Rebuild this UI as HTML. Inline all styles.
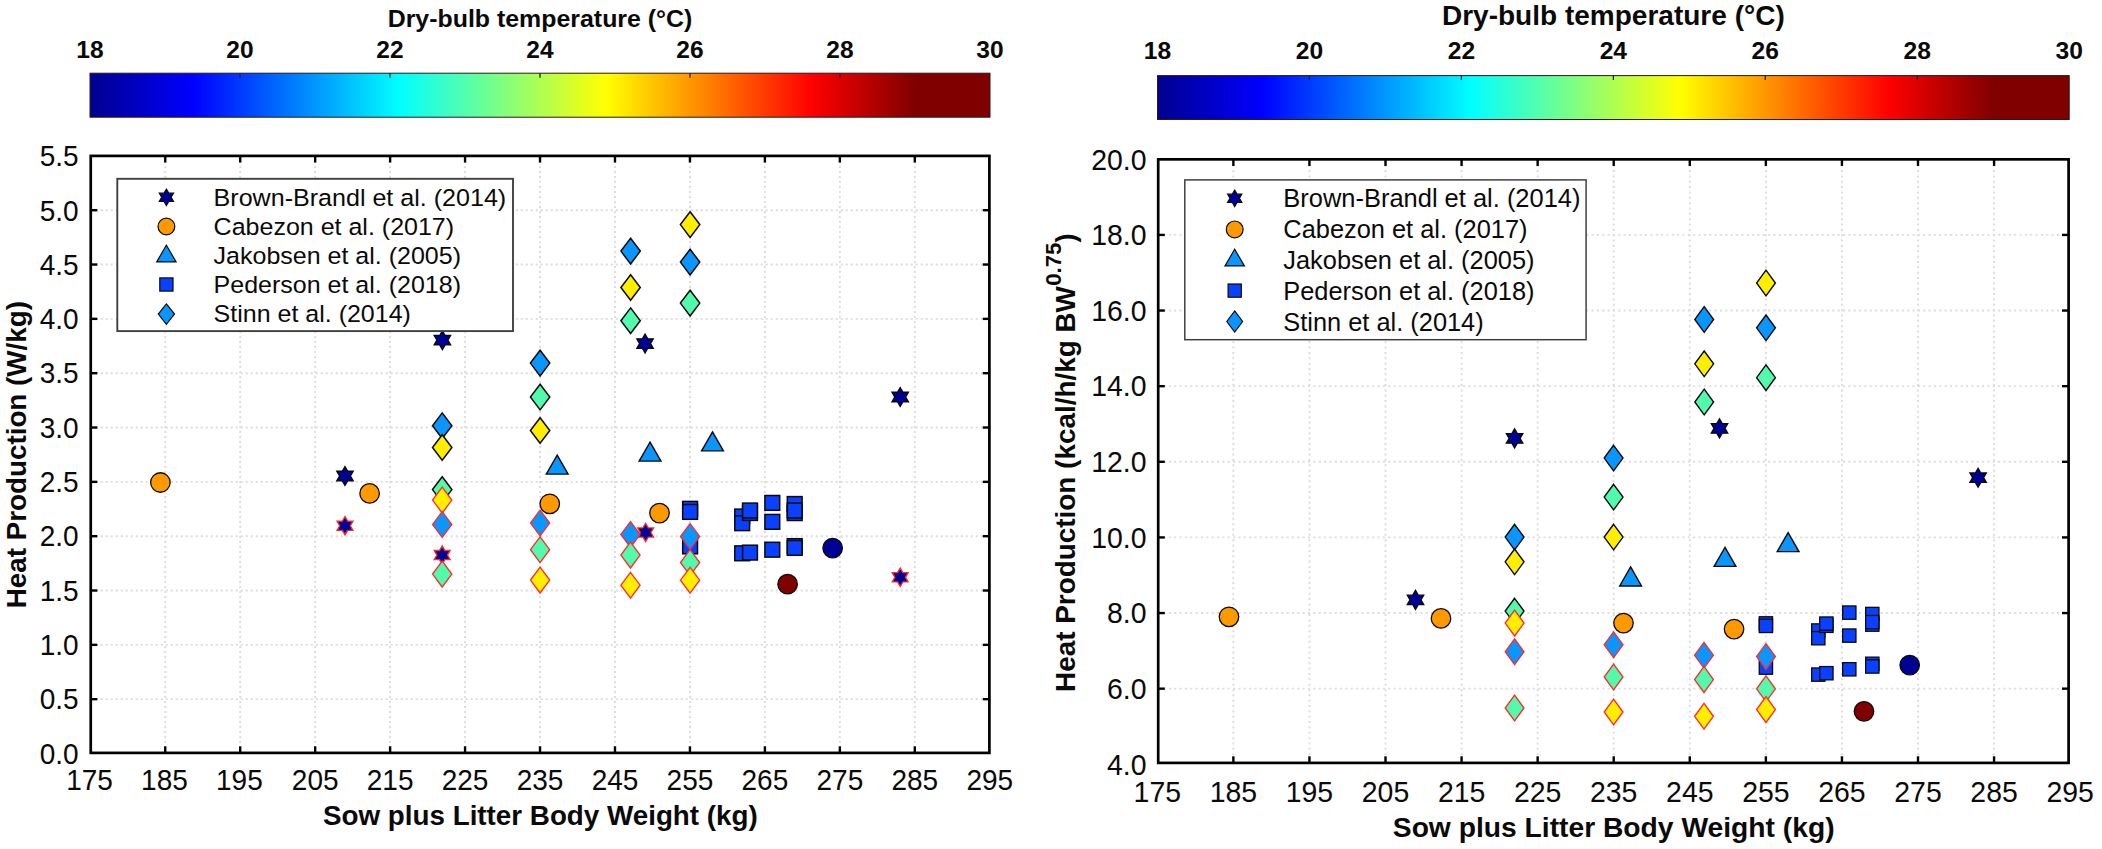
<!DOCTYPE html>
<html lang="en"><head><meta charset="utf-8"><title>Heat production vs sow plus litter body weight</title>
<style>html,body{margin:0;padding:0;background:#fff}svg{display:block}</style></head>
<body>
<svg width="2102" height="849" viewBox="0 0 2102 849" font-family="'Liberation Sans', sans-serif" fill="#0a0a0a">
<defs><linearGradient id="jet" x1="0" y1="0" x2="1" y2="0">
<stop offset="0" stop-color="#00008f"/><stop offset="0.11458" stop-color="#0000ff"/>
<stop offset="0.34375" stop-color="#00ffff"/><stop offset="0.57292" stop-color="#ffff00"/>
<stop offset="0.80208" stop-color="#ff0000"/><stop offset="0.91667" stop-color="#800000"/>
<stop offset="1" stop-color="#800000"/></linearGradient></defs>
<rect width="2102" height="849" fill="#fff"/>
<rect x="90" y="73.2" width="900" height="44.0" fill="url(#jet)" stroke="#2a1a1a" stroke-width="1"/>
<line x1="240.00" y1="73.2" x2="240.00" y2="77.7" stroke="#222" stroke-width="1.3"/>
<line x1="390.00" y1="73.2" x2="390.00" y2="77.7" stroke="#222" stroke-width="1.3"/>
<line x1="540.00" y1="73.2" x2="540.00" y2="77.7" stroke="#222" stroke-width="1.3"/>
<line x1="690.00" y1="73.2" x2="690.00" y2="77.7" stroke="#222" stroke-width="1.3"/>
<line x1="840.00" y1="73.2" x2="840.00" y2="77.7" stroke="#222" stroke-width="1.3"/>
<text x="90.00" y="57.50" font-size="24.5" text-anchor="middle" font-weight="bold" >18</text>
<text x="240.00" y="57.50" font-size="24.5" text-anchor="middle" font-weight="bold" >20</text>
<text x="390.00" y="57.50" font-size="24.5" text-anchor="middle" font-weight="bold" >22</text>
<text x="540.00" y="57.50" font-size="24.5" text-anchor="middle" font-weight="bold" >24</text>
<text x="690.00" y="57.50" font-size="24.5" text-anchor="middle" font-weight="bold" >26</text>
<text x="840.00" y="57.50" font-size="24.5" text-anchor="middle" font-weight="bold" >28</text>
<text x="990.00" y="57.50" font-size="24.5" text-anchor="middle" font-weight="bold" >30</text>
<text x="540.00" y="26.90" font-size="24.5" text-anchor="middle" font-weight="bold" textLength="304.7" lengthAdjust="spacingAndGlyphs" >Dry-bulb temperature (°C)</text>
<line x1="165.25" y1="155.9" x2="165.25" y2="752.9" stroke="#dcdcdc" stroke-width="1.9" stroke-dasharray="2 3"/>
<line x1="240.21" y1="155.9" x2="240.21" y2="752.9" stroke="#dcdcdc" stroke-width="1.9" stroke-dasharray="2 3"/>
<line x1="315.17" y1="155.9" x2="315.17" y2="752.9" stroke="#dcdcdc" stroke-width="1.9" stroke-dasharray="2 3"/>
<line x1="390.12" y1="155.9" x2="390.12" y2="752.9" stroke="#dcdcdc" stroke-width="1.9" stroke-dasharray="2 3"/>
<line x1="465.07" y1="155.9" x2="465.07" y2="752.9" stroke="#dcdcdc" stroke-width="1.9" stroke-dasharray="2 3"/>
<line x1="540.03" y1="155.9" x2="540.03" y2="752.9" stroke="#dcdcdc" stroke-width="1.9" stroke-dasharray="2 3"/>
<line x1="614.98" y1="155.9" x2="614.98" y2="752.9" stroke="#dcdcdc" stroke-width="1.9" stroke-dasharray="2 3"/>
<line x1="689.94" y1="155.9" x2="689.94" y2="752.9" stroke="#dcdcdc" stroke-width="1.9" stroke-dasharray="2 3"/>
<line x1="764.89" y1="155.9" x2="764.89" y2="752.9" stroke="#dcdcdc" stroke-width="1.9" stroke-dasharray="2 3"/>
<line x1="839.85" y1="155.9" x2="839.85" y2="752.9" stroke="#dcdcdc" stroke-width="1.9" stroke-dasharray="2 3"/>
<line x1="914.80" y1="155.9" x2="914.80" y2="752.9" stroke="#dcdcdc" stroke-width="1.9" stroke-dasharray="2 3"/>
<line x1="90.75" y1="699.17" x2="989.4" y2="699.17" stroke="#dcdcdc" stroke-width="1.9" stroke-dasharray="2 3"/>
<line x1="90.75" y1="644.84" x2="989.4" y2="644.84" stroke="#dcdcdc" stroke-width="1.9" stroke-dasharray="2 3"/>
<line x1="90.75" y1="590.51" x2="989.4" y2="590.51" stroke="#dcdcdc" stroke-width="1.9" stroke-dasharray="2 3"/>
<line x1="90.75" y1="536.18" x2="989.4" y2="536.18" stroke="#dcdcdc" stroke-width="1.9" stroke-dasharray="2 3"/>
<line x1="90.75" y1="481.85" x2="989.4" y2="481.85" stroke="#dcdcdc" stroke-width="1.9" stroke-dasharray="2 3"/>
<line x1="90.75" y1="427.52" x2="989.4" y2="427.52" stroke="#dcdcdc" stroke-width="1.9" stroke-dasharray="2 3"/>
<line x1="90.75" y1="373.19" x2="989.4" y2="373.19" stroke="#dcdcdc" stroke-width="1.9" stroke-dasharray="2 3"/>
<line x1="90.75" y1="318.86" x2="989.4" y2="318.86" stroke="#dcdcdc" stroke-width="1.9" stroke-dasharray="2 3"/>
<line x1="90.75" y1="264.53" x2="989.4" y2="264.53" stroke="#dcdcdc" stroke-width="1.9" stroke-dasharray="2 3"/>
<line x1="90.75" y1="210.20" x2="989.4" y2="210.20" stroke="#dcdcdc" stroke-width="1.9" stroke-dasharray="2 3"/>
<polygon points="345.00,466.50 347.74,471.25 353.23,471.25 350.48,476.00 353.23,480.75 347.74,480.75 345.00,485.50 342.26,480.75 336.77,480.75 339.52,476.00 336.77,471.25 342.26,471.25" fill="#000094" stroke="#0a0a0a" stroke-width="1.3"/>
<polygon points="442.40,330.70 445.14,335.45 450.63,335.45 447.88,340.20 450.63,344.95 445.14,344.95 442.40,349.70 439.66,344.95 434.17,344.95 436.92,340.20 434.17,335.45 439.66,335.45" fill="#000094" stroke="#0a0a0a" stroke-width="1.3"/>
<polygon points="645.05,334.05 647.79,338.80 653.28,338.80 650.53,343.55 653.28,348.30 647.79,348.30 645.05,353.05 642.31,348.30 636.82,348.30 639.57,343.55 636.82,338.80 642.31,338.80" fill="#000094" stroke="#0a0a0a" stroke-width="1.3"/>
<polygon points="900.20,387.50 902.94,392.25 908.43,392.25 905.68,397.00 908.43,401.75 902.94,401.75 900.20,406.50 897.46,401.75 891.97,401.75 894.72,397.00 891.97,392.25 897.46,392.25" fill="#000094" stroke="#0a0a0a" stroke-width="1.3"/>
<rect x="682.70" y="501.40" width="14.8" height="14.8" fill="#0a40ff" stroke="#0a0a0a" stroke-width="1.5"/>
<rect x="682.70" y="504.50" width="14.8" height="14.8" fill="#0a40ff" stroke="#0a0a0a" stroke-width="1.5"/>
<rect x="682.70" y="539.00" width="14.8" height="14.8" fill="#0a40ff" stroke="#0a0a0a" stroke-width="1.5"/>
<rect x="734.80" y="509.10" width="14.8" height="14.8" fill="#0a40ff" stroke="#0a0a0a" stroke-width="1.5"/>
<rect x="734.80" y="515.80" width="14.8" height="14.8" fill="#0a40ff" stroke="#0a0a0a" stroke-width="1.5"/>
<rect x="742.60" y="505.60" width="14.8" height="14.8" fill="#0a40ff" stroke="#0a0a0a" stroke-width="1.5"/>
<rect x="742.60" y="503.10" width="14.8" height="14.8" fill="#0a40ff" stroke="#0a0a0a" stroke-width="1.5"/>
<rect x="764.90" y="495.50" width="14.8" height="14.8" fill="#0a40ff" stroke="#0a0a0a" stroke-width="1.5"/>
<rect x="764.90" y="514.45" width="14.8" height="14.8" fill="#0a40ff" stroke="#0a0a0a" stroke-width="1.5"/>
<rect x="787.30" y="496.60" width="14.8" height="14.8" fill="#0a40ff" stroke="#0a0a0a" stroke-width="1.5"/>
<rect x="787.30" y="505.70" width="14.8" height="14.8" fill="#0a40ff" stroke="#0a0a0a" stroke-width="1.5"/>
<rect x="787.30" y="503.10" width="14.8" height="14.8" fill="#0a40ff" stroke="#0a0a0a" stroke-width="1.5"/>
<rect x="734.80" y="545.90" width="14.8" height="14.8" fill="#0a40ff" stroke="#0a0a0a" stroke-width="1.5"/>
<rect x="742.60" y="545.20" width="14.8" height="14.8" fill="#0a40ff" stroke="#0a0a0a" stroke-width="1.5"/>
<rect x="764.90" y="542.30" width="14.8" height="14.8" fill="#0a40ff" stroke="#0a0a0a" stroke-width="1.5"/>
<rect x="787.30" y="538.70" width="14.8" height="14.8" fill="#0a40ff" stroke="#0a0a0a" stroke-width="1.5"/>
<rect x="787.30" y="540.50" width="14.8" height="14.8" fill="#0a40ff" stroke="#0a0a0a" stroke-width="1.5"/>
<polygon points="557.20,455.06 568.10,474.10 546.30,474.10" fill="#0a96ff" stroke="#0a0a0a" stroke-width="1.4"/>
<polygon points="650.05,442.06 660.95,461.10 639.15,461.10" fill="#0a96ff" stroke="#0a0a0a" stroke-width="1.4"/>
<polygon points="712.50,431.81 723.40,450.85 701.60,450.85" fill="#0a96ff" stroke="#0a0a0a" stroke-width="1.4"/>
<polygon points="442.20,412.90 451.90,425.70 442.20,438.50 432.50,425.70" fill="#0a96ff" stroke="#0a0a0a" stroke-width="1.5"/>
<polygon points="442.20,434.70 451.90,447.50 442.20,460.30 432.50,447.50" fill="#ffee00" stroke="#0a0a0a" stroke-width="1.5"/>
<polygon points="442.20,476.80 451.90,489.60 442.20,502.40 432.50,489.60" fill="#52fbab" stroke="#0a0a0a" stroke-width="1.5"/>
<polygon points="540.10,350.30 549.80,363.10 540.10,375.90 530.40,363.10" fill="#0a96ff" stroke="#0a0a0a" stroke-width="1.5"/>
<polygon points="540.10,384.26 549.80,397.06 540.10,409.86 530.40,397.06" fill="#52fbab" stroke="#0a0a0a" stroke-width="1.5"/>
<polygon points="540.10,417.70 549.80,430.50 540.10,443.30 530.40,430.50" fill="#ffee00" stroke="#0a0a0a" stroke-width="1.5"/>
<polygon points="630.60,238.30 640.30,251.10 630.60,263.90 620.90,251.10" fill="#0a96ff" stroke="#0a0a0a" stroke-width="1.5"/>
<polygon points="630.60,274.70 640.30,287.50 630.60,300.30 620.90,287.50" fill="#ffee00" stroke="#0a0a0a" stroke-width="1.5"/>
<polygon points="630.60,307.90 640.30,320.70 630.60,333.50 620.90,320.70" fill="#52fbab" stroke="#0a0a0a" stroke-width="1.5"/>
<polygon points="690.10,211.80 699.80,224.60 690.10,237.40 680.40,224.60" fill="#ffee00" stroke="#0a0a0a" stroke-width="1.5"/>
<polygon points="690.10,249.30 699.80,262.10 690.10,274.90 680.40,262.10" fill="#0a96ff" stroke="#0a0a0a" stroke-width="1.5"/>
<polygon points="690.10,290.30 699.80,303.10 690.10,315.90 680.40,303.10" fill="#52fbab" stroke="#0a0a0a" stroke-width="1.5"/>
<polygon points="345.00,516.55 347.66,521.15 352.97,521.15 350.31,525.75 352.97,530.35 347.66,530.35 345.00,534.95 342.34,530.35 337.03,530.35 339.69,525.75 337.03,521.15 342.34,521.15" fill="#000094" stroke="#ff2a2a" stroke-width="1.3"/>
<polygon points="442.20,545.90 444.86,550.50 450.17,550.50 447.51,555.10 450.17,559.70 444.86,559.70 442.20,564.30 439.54,559.70 434.23,559.70 436.89,555.10 434.23,550.50 439.54,550.50" fill="#000094" stroke="#ff2a2a" stroke-width="1.3"/>
<polygon points="645.60,523.30 648.26,527.90 653.57,527.90 650.91,532.50 653.57,537.10 648.26,537.10 645.60,541.70 642.94,537.10 637.63,537.10 640.29,532.50 637.63,527.90 642.94,527.90" fill="#000094" stroke="#ff2a2a" stroke-width="1.3"/>
<polygon points="900.20,568.10 902.86,572.70 908.17,572.70 905.51,577.30 908.17,581.90 902.86,581.90 900.20,586.50 897.54,581.90 892.23,581.90 894.89,577.30 892.23,572.70 897.54,572.70" fill="#000094" stroke="#ff2a2a" stroke-width="1.3"/>
<polygon points="442.20,487.20 451.80,500.10 442.20,513.00 432.60,500.10" fill="#ffee00" stroke="#ff2a2a" stroke-width="1.35"/>
<polygon points="442.20,511.55 451.80,524.45 442.20,537.35 432.60,524.45" fill="#0a96ff" stroke="#ff2a2a" stroke-width="1.35"/>
<polygon points="442.20,561.20 451.80,574.10 442.20,587.00 432.60,574.10" fill="#52fbab" stroke="#ff2a2a" stroke-width="1.35"/>
<polygon points="540.10,510.15 549.70,523.05 540.10,535.95 530.50,523.05" fill="#0a96ff" stroke="#ff2a2a" stroke-width="1.35"/>
<polygon points="540.10,536.80 549.70,549.70 540.10,562.60 530.50,549.70" fill="#52fbab" stroke="#ff2a2a" stroke-width="1.35"/>
<polygon points="540.10,567.20 549.70,580.10 540.10,593.00 530.50,580.10" fill="#ffee00" stroke="#ff2a2a" stroke-width="1.35"/>
<polygon points="630.50,521.60 640.10,534.50 630.50,547.40 620.90,534.50" fill="#0a96ff" stroke="#ff2a2a" stroke-width="1.35"/>
<polygon points="630.50,542.20 640.10,555.10 630.50,568.00 620.90,555.10" fill="#52fbab" stroke="#ff2a2a" stroke-width="1.35"/>
<polygon points="630.50,572.30 640.10,585.20 630.50,598.10 620.90,585.20" fill="#ffee00" stroke="#ff2a2a" stroke-width="1.35"/>
<polygon points="690.10,523.60 699.70,536.50 690.10,549.40 680.50,536.50" fill="#0a96ff" stroke="#ff2a2a" stroke-width="1.35"/>
<polygon points="690.10,549.60 699.70,562.50 690.10,575.40 680.50,562.50" fill="#52fbab" stroke="#ff2a2a" stroke-width="1.35"/>
<polygon points="690.10,567.30 699.70,580.20 690.10,593.10 680.50,580.20" fill="#ffee00" stroke="#ff2a2a" stroke-width="1.35"/>
<circle cx="160.40" cy="482.50" r="9.75" fill="#ff9900" stroke="#0a0a0a" stroke-width="1.3"/>
<circle cx="369.60" cy="493.40" r="9.75" fill="#ff9900" stroke="#0a0a0a" stroke-width="1.3"/>
<circle cx="549.75" cy="503.80" r="9.75" fill="#ff9900" stroke="#0a0a0a" stroke-width="1.3"/>
<circle cx="659.50" cy="513.10" r="9.75" fill="#ff9900" stroke="#0a0a0a" stroke-width="1.3"/>
<circle cx="832.65" cy="548.10" r="9.75" fill="#000094" stroke="#0a0a0a" stroke-width="1.3"/>
<circle cx="787.60" cy="584.20" r="9.75" fill="#800000" stroke="#0a0a0a" stroke-width="1.3"/>
<line x1="165.25" y1="752.9" x2="165.25" y2="746.3" stroke="#000" stroke-width="2.4"/>
<line x1="165.25" y1="155.9" x2="165.25" y2="162.5" stroke="#000" stroke-width="2.4"/>
<line x1="240.21" y1="752.9" x2="240.21" y2="746.3" stroke="#000" stroke-width="2.4"/>
<line x1="240.21" y1="155.9" x2="240.21" y2="162.5" stroke="#000" stroke-width="2.4"/>
<line x1="315.17" y1="752.9" x2="315.17" y2="746.3" stroke="#000" stroke-width="2.4"/>
<line x1="315.17" y1="155.9" x2="315.17" y2="162.5" stroke="#000" stroke-width="2.4"/>
<line x1="390.12" y1="752.9" x2="390.12" y2="746.3" stroke="#000" stroke-width="2.4"/>
<line x1="390.12" y1="155.9" x2="390.12" y2="162.5" stroke="#000" stroke-width="2.4"/>
<line x1="465.07" y1="752.9" x2="465.07" y2="746.3" stroke="#000" stroke-width="2.4"/>
<line x1="465.07" y1="155.9" x2="465.07" y2="162.5" stroke="#000" stroke-width="2.4"/>
<line x1="540.03" y1="752.9" x2="540.03" y2="746.3" stroke="#000" stroke-width="2.4"/>
<line x1="540.03" y1="155.9" x2="540.03" y2="162.5" stroke="#000" stroke-width="2.4"/>
<line x1="614.98" y1="752.9" x2="614.98" y2="746.3" stroke="#000" stroke-width="2.4"/>
<line x1="614.98" y1="155.9" x2="614.98" y2="162.5" stroke="#000" stroke-width="2.4"/>
<line x1="689.94" y1="752.9" x2="689.94" y2="746.3" stroke="#000" stroke-width="2.4"/>
<line x1="689.94" y1="155.9" x2="689.94" y2="162.5" stroke="#000" stroke-width="2.4"/>
<line x1="764.89" y1="752.9" x2="764.89" y2="746.3" stroke="#000" stroke-width="2.4"/>
<line x1="764.89" y1="155.9" x2="764.89" y2="162.5" stroke="#000" stroke-width="2.4"/>
<line x1="839.85" y1="752.9" x2="839.85" y2="746.3" stroke="#000" stroke-width="2.4"/>
<line x1="839.85" y1="155.9" x2="839.85" y2="162.5" stroke="#000" stroke-width="2.4"/>
<line x1="914.80" y1="752.9" x2="914.80" y2="746.3" stroke="#000" stroke-width="2.4"/>
<line x1="914.80" y1="155.9" x2="914.80" y2="162.5" stroke="#000" stroke-width="2.4"/>
<line x1="90.75" y1="699.17" x2="97.35" y2="699.17" stroke="#000" stroke-width="2.4"/>
<line x1="989.4" y1="699.17" x2="982.8" y2="699.17" stroke="#000" stroke-width="2.4"/>
<line x1="90.75" y1="644.84" x2="97.35" y2="644.84" stroke="#000" stroke-width="2.4"/>
<line x1="989.4" y1="644.84" x2="982.8" y2="644.84" stroke="#000" stroke-width="2.4"/>
<line x1="90.75" y1="590.51" x2="97.35" y2="590.51" stroke="#000" stroke-width="2.4"/>
<line x1="989.4" y1="590.51" x2="982.8" y2="590.51" stroke="#000" stroke-width="2.4"/>
<line x1="90.75" y1="536.18" x2="97.35" y2="536.18" stroke="#000" stroke-width="2.4"/>
<line x1="989.4" y1="536.18" x2="982.8" y2="536.18" stroke="#000" stroke-width="2.4"/>
<line x1="90.75" y1="481.85" x2="97.35" y2="481.85" stroke="#000" stroke-width="2.4"/>
<line x1="989.4" y1="481.85" x2="982.8" y2="481.85" stroke="#000" stroke-width="2.4"/>
<line x1="90.75" y1="427.52" x2="97.35" y2="427.52" stroke="#000" stroke-width="2.4"/>
<line x1="989.4" y1="427.52" x2="982.8" y2="427.52" stroke="#000" stroke-width="2.4"/>
<line x1="90.75" y1="373.19" x2="97.35" y2="373.19" stroke="#000" stroke-width="2.4"/>
<line x1="989.4" y1="373.19" x2="982.8" y2="373.19" stroke="#000" stroke-width="2.4"/>
<line x1="90.75" y1="318.86" x2="97.35" y2="318.86" stroke="#000" stroke-width="2.4"/>
<line x1="989.4" y1="318.86" x2="982.8" y2="318.86" stroke="#000" stroke-width="2.4"/>
<line x1="90.75" y1="264.53" x2="97.35" y2="264.53" stroke="#000" stroke-width="2.4"/>
<line x1="989.4" y1="264.53" x2="982.8" y2="264.53" stroke="#000" stroke-width="2.4"/>
<line x1="90.75" y1="210.20" x2="97.35" y2="210.20" stroke="#000" stroke-width="2.4"/>
<line x1="989.4" y1="210.20" x2="982.8" y2="210.20" stroke="#000" stroke-width="2.4"/>
<rect x="90.75" y="155.9" width="898.65" height="597.0" fill="none" stroke="#000" stroke-width="2.7"/>
<text x="89.50" y="790.20" font-size="28.9" text-anchor="middle" textLength="46.7" lengthAdjust="spacingAndGlyphs" >175</text>
<text x="164.45" y="790.20" font-size="28.9" text-anchor="middle" textLength="46.7" lengthAdjust="spacingAndGlyphs" >185</text>
<text x="239.41" y="790.20" font-size="28.9" text-anchor="middle" textLength="46.7" lengthAdjust="spacingAndGlyphs" >195</text>
<text x="315.17" y="790.20" font-size="28.9" text-anchor="middle" textLength="46.7" lengthAdjust="spacingAndGlyphs" >205</text>
<text x="390.12" y="790.20" font-size="28.9" text-anchor="middle" textLength="46.7" lengthAdjust="spacingAndGlyphs" >215</text>
<text x="465.07" y="790.20" font-size="28.9" text-anchor="middle" textLength="46.7" lengthAdjust="spacingAndGlyphs" >225</text>
<text x="540.03" y="790.20" font-size="28.9" text-anchor="middle" textLength="46.7" lengthAdjust="spacingAndGlyphs" >235</text>
<text x="614.98" y="790.20" font-size="28.9" text-anchor="middle" textLength="46.7" lengthAdjust="spacingAndGlyphs" >245</text>
<text x="689.94" y="790.20" font-size="28.9" text-anchor="middle" textLength="46.7" lengthAdjust="spacingAndGlyphs" >255</text>
<text x="764.89" y="790.20" font-size="28.9" text-anchor="middle" textLength="46.7" lengthAdjust="spacingAndGlyphs" >265</text>
<text x="839.85" y="790.20" font-size="28.9" text-anchor="middle" textLength="46.7" lengthAdjust="spacingAndGlyphs" >275</text>
<text x="914.80" y="790.20" font-size="28.9" text-anchor="middle" textLength="46.7" lengthAdjust="spacingAndGlyphs" >285</text>
<text x="989.76" y="790.20" font-size="28.9" text-anchor="middle" textLength="46.7" lengthAdjust="spacingAndGlyphs" >295</text>
<text x="78.60" y="763.80" font-size="28.9" text-anchor="end" textLength="38.9" lengthAdjust="spacingAndGlyphs" >0.0</text>
<text x="78.60" y="709.47" font-size="28.9" text-anchor="end" textLength="38.9" lengthAdjust="spacingAndGlyphs" >0.5</text>
<text x="78.60" y="655.14" font-size="28.9" text-anchor="end" textLength="38.9" lengthAdjust="spacingAndGlyphs" >1.0</text>
<text x="78.60" y="600.81" font-size="28.9" text-anchor="end" textLength="38.9" lengthAdjust="spacingAndGlyphs" >1.5</text>
<text x="78.60" y="546.48" font-size="28.9" text-anchor="end" textLength="38.9" lengthAdjust="spacingAndGlyphs" >2.0</text>
<text x="78.60" y="492.15" font-size="28.9" text-anchor="end" textLength="38.9" lengthAdjust="spacingAndGlyphs" >2.5</text>
<text x="78.60" y="437.82" font-size="28.9" text-anchor="end" textLength="38.9" lengthAdjust="spacingAndGlyphs" >3.0</text>
<text x="78.60" y="383.49" font-size="28.9" text-anchor="end" textLength="38.9" lengthAdjust="spacingAndGlyphs" >3.5</text>
<text x="78.60" y="329.16" font-size="28.9" text-anchor="end" textLength="38.9" lengthAdjust="spacingAndGlyphs" >4.0</text>
<text x="78.60" y="274.83" font-size="28.9" text-anchor="end" textLength="38.9" lengthAdjust="spacingAndGlyphs" >4.5</text>
<text x="78.60" y="220.50" font-size="28.9" text-anchor="end" textLength="38.9" lengthAdjust="spacingAndGlyphs" >5.0</text>
<text x="78.60" y="166.17" font-size="28.9" text-anchor="end" textLength="38.9" lengthAdjust="spacingAndGlyphs" >5.5</text>
<text x="540.38" y="825.00" font-size="27.2" text-anchor="middle" font-weight="bold" textLength="434.7" lengthAdjust="spacingAndGlyphs" >Sow plus Litter Body Weight (kg)</text>
<rect x="117.3" y="178.8" width="395.7" height="152.3" fill="#fff" stroke="#404040" stroke-width="1.9"/>
<text x="213.60" y="205.60" font-size="24.5" text-anchor="start" textLength="292.6" lengthAdjust="spacingAndGlyphs" >Brown-Brandl et al. (2014)</text>
<text x="213.60" y="234.70" font-size="24.5" text-anchor="start" textLength="240.5" lengthAdjust="spacingAndGlyphs" >Cabezon et al. (2017)</text>
<text x="213.60" y="263.70" font-size="24.5" text-anchor="start" textLength="247.4" lengthAdjust="spacingAndGlyphs" >Jakobsen et al. (2005)</text>
<text x="213.60" y="292.60" font-size="24.5" text-anchor="start" textLength="247.4" lengthAdjust="spacingAndGlyphs" >Pederson et al. (2018)</text>
<text x="213.60" y="321.80" font-size="24.5" text-anchor="start" textLength="197.3" lengthAdjust="spacingAndGlyphs" >Stinn et al. (2014)</text>
<polygon points="166.40,189.00 168.80,193.15 173.59,193.15 171.19,197.30 173.59,201.45 168.80,201.45 166.40,205.60 164.00,201.45 159.21,201.45 161.61,197.30 159.21,193.15 164.00,193.15" fill="#000094" stroke="#0a0a0a" stroke-width="1.1"/>
<circle cx="166.40" cy="226.50" r="8.4" fill="#ff9900" stroke="#0a0a0a" stroke-width="1.2"/>
<polygon points="166.40,245.18 176.10,261.90 156.70,261.90" fill="#0a96ff" stroke="#0a0a0a" stroke-width="1.2"/>
<rect x="159.80" y="277.90" width="13.2" height="13.2" fill="#0a40ff" stroke="#0a0a0a" stroke-width="1.2"/>
<polygon points="166.40,303.90 174.50,314.10 166.40,324.30 158.30,314.10" fill="#0a96ff" stroke="#0a0a0a" stroke-width="1.2"/>
<rect x="1157.5" y="75.6" width="911.6999999999998" height="43.900000000000006" fill="url(#jet)" stroke="#2a1a1a" stroke-width="1"/>
<line x1="1309.45" y1="75.6" x2="1309.45" y2="80.1" stroke="#222" stroke-width="1.3"/>
<line x1="1461.40" y1="75.6" x2="1461.40" y2="80.1" stroke="#222" stroke-width="1.3"/>
<line x1="1613.35" y1="75.6" x2="1613.35" y2="80.1" stroke="#222" stroke-width="1.3"/>
<line x1="1765.30" y1="75.6" x2="1765.30" y2="80.1" stroke="#222" stroke-width="1.3"/>
<line x1="1917.25" y1="75.6" x2="1917.25" y2="80.1" stroke="#222" stroke-width="1.3"/>
<text x="1157.50" y="59.20" font-size="24.6" text-anchor="middle" font-weight="bold" >18</text>
<text x="1309.45" y="59.20" font-size="24.6" text-anchor="middle" font-weight="bold" >20</text>
<text x="1461.40" y="59.20" font-size="24.6" text-anchor="middle" font-weight="bold" >22</text>
<text x="1613.35" y="59.20" font-size="24.6" text-anchor="middle" font-weight="bold" >24</text>
<text x="1765.30" y="59.20" font-size="24.6" text-anchor="middle" font-weight="bold" >26</text>
<text x="1917.25" y="59.20" font-size="24.6" text-anchor="middle" font-weight="bold" >28</text>
<text x="2069.20" y="59.20" font-size="24.6" text-anchor="middle" font-weight="bold" >30</text>
<text x="1613.35" y="25.10" font-size="27.5" text-anchor="middle" font-weight="bold" textLength="342.8" lengthAdjust="spacingAndGlyphs" >Dry-bulb temperature (°C)</text>
<line x1="1233.37" y1="159.35" x2="1233.37" y2="762.9" stroke="#dcdcdc" stroke-width="1.9" stroke-dasharray="2 3.35"/>
<line x1="1309.44" y1="159.35" x2="1309.44" y2="762.9" stroke="#dcdcdc" stroke-width="1.9" stroke-dasharray="2 3.35"/>
<line x1="1385.51" y1="159.35" x2="1385.51" y2="762.9" stroke="#dcdcdc" stroke-width="1.9" stroke-dasharray="2 3.35"/>
<line x1="1461.58" y1="159.35" x2="1461.58" y2="762.9" stroke="#dcdcdc" stroke-width="1.9" stroke-dasharray="2 3.35"/>
<line x1="1537.65" y1="159.35" x2="1537.65" y2="762.9" stroke="#dcdcdc" stroke-width="1.9" stroke-dasharray="2 3.35"/>
<line x1="1613.72" y1="159.35" x2="1613.72" y2="762.9" stroke="#dcdcdc" stroke-width="1.9" stroke-dasharray="2 3.35"/>
<line x1="1689.79" y1="159.35" x2="1689.79" y2="762.9" stroke="#dcdcdc" stroke-width="1.9" stroke-dasharray="2 3.35"/>
<line x1="1765.86" y1="159.35" x2="1765.86" y2="762.9" stroke="#dcdcdc" stroke-width="1.9" stroke-dasharray="2 3.35"/>
<line x1="1841.93" y1="159.35" x2="1841.93" y2="762.9" stroke="#dcdcdc" stroke-width="1.9" stroke-dasharray="2 3.35"/>
<line x1="1918.00" y1="159.35" x2="1918.00" y2="762.9" stroke="#dcdcdc" stroke-width="1.9" stroke-dasharray="2 3.35"/>
<line x1="1994.07" y1="159.35" x2="1994.07" y2="762.9" stroke="#dcdcdc" stroke-width="1.9" stroke-dasharray="2 3.35"/>
<line x1="1158.2" y1="688.67" x2="2068.6" y2="688.67" stroke="#dcdcdc" stroke-width="1.9" stroke-dasharray="2 3.35"/>
<line x1="1158.2" y1="613.05" x2="2068.6" y2="613.05" stroke="#dcdcdc" stroke-width="1.9" stroke-dasharray="2 3.35"/>
<line x1="1158.2" y1="537.42" x2="2068.6" y2="537.42" stroke="#dcdcdc" stroke-width="1.9" stroke-dasharray="2 3.35"/>
<line x1="1158.2" y1="461.80" x2="2068.6" y2="461.80" stroke="#dcdcdc" stroke-width="1.9" stroke-dasharray="2 3.35"/>
<line x1="1158.2" y1="386.17" x2="2068.6" y2="386.17" stroke="#dcdcdc" stroke-width="1.9" stroke-dasharray="2 3.35"/>
<line x1="1158.2" y1="310.55" x2="2068.6" y2="310.55" stroke="#dcdcdc" stroke-width="1.9" stroke-dasharray="2 3.35"/>
<line x1="1158.2" y1="234.92" x2="2068.6" y2="234.92" stroke="#dcdcdc" stroke-width="1.9" stroke-dasharray="2 3.35"/>
<polygon points="1415.50,590.40 1418.24,595.15 1423.73,595.15 1420.98,599.90 1423.73,604.65 1418.24,604.65 1415.50,609.40 1412.76,604.65 1407.27,604.65 1410.02,599.90 1407.27,595.15 1412.76,595.15" fill="#000094" stroke="#0a0a0a" stroke-width="1.3"/>
<polygon points="1514.60,428.90 1517.34,433.65 1522.83,433.65 1520.08,438.40 1522.83,443.15 1517.34,443.15 1514.60,447.90 1511.86,443.15 1506.37,443.15 1509.12,438.40 1506.37,433.65 1511.86,433.65" fill="#000094" stroke="#0a0a0a" stroke-width="1.3"/>
<polygon points="1719.50,418.90 1722.24,423.65 1727.73,423.65 1724.98,428.40 1727.73,433.15 1722.24,433.15 1719.50,437.90 1716.76,433.15 1711.27,433.15 1714.02,428.40 1711.27,423.65 1716.76,423.65" fill="#000094" stroke="#0a0a0a" stroke-width="1.3"/>
<polygon points="1978.10,468.20 1980.84,472.95 1986.33,472.95 1983.58,477.70 1986.33,482.45 1980.84,482.45 1978.10,487.20 1975.36,482.45 1969.87,482.45 1972.62,477.70 1969.87,472.95 1975.36,472.95" fill="#000094" stroke="#0a0a0a" stroke-width="1.3"/>
<rect x="1759.25" y="616.75" width="13.3" height="13.3" fill="#0a40ff" stroke="#0a0a0a" stroke-width="1.3"/>
<rect x="1759.25" y="619.25" width="13.3" height="13.3" fill="#0a40ff" stroke="#0a0a0a" stroke-width="1.3"/>
<rect x="1759.25" y="660.95" width="13.3" height="13.3" fill="#0a40ff" stroke="#0a0a0a" stroke-width="1.3"/>
<rect x="1811.65" y="623.85" width="13.3" height="13.3" fill="#0a40ff" stroke="#0a0a0a" stroke-width="1.3"/>
<rect x="1811.65" y="631.55" width="13.3" height="13.3" fill="#0a40ff" stroke="#0a0a0a" stroke-width="1.3"/>
<rect x="1819.75" y="619.15" width="13.3" height="13.3" fill="#0a40ff" stroke="#0a0a0a" stroke-width="1.3"/>
<rect x="1819.75" y="616.95" width="13.3" height="13.3" fill="#0a40ff" stroke="#0a0a0a" stroke-width="1.3"/>
<rect x="1842.65" y="605.95" width="13.3" height="13.3" fill="#0a40ff" stroke="#0a0a0a" stroke-width="1.3"/>
<rect x="1842.65" y="628.95" width="13.3" height="13.3" fill="#0a40ff" stroke="#0a0a0a" stroke-width="1.3"/>
<rect x="1865.65" y="607.35" width="13.3" height="13.3" fill="#0a40ff" stroke="#0a0a0a" stroke-width="1.3"/>
<rect x="1865.65" y="617.95" width="13.3" height="13.3" fill="#0a40ff" stroke="#0a0a0a" stroke-width="1.3"/>
<rect x="1865.65" y="615.45" width="13.3" height="13.3" fill="#0a40ff" stroke="#0a0a0a" stroke-width="1.3"/>
<rect x="1811.65" y="667.95" width="13.3" height="13.3" fill="#0a40ff" stroke="#0a0a0a" stroke-width="1.3"/>
<rect x="1819.75" y="666.55" width="13.3" height="13.3" fill="#0a40ff" stroke="#0a0a0a" stroke-width="1.3"/>
<rect x="1842.65" y="662.65" width="13.3" height="13.3" fill="#0a40ff" stroke="#0a0a0a" stroke-width="1.3"/>
<rect x="1865.65" y="657.15" width="13.3" height="13.3" fill="#0a40ff" stroke="#0a0a0a" stroke-width="1.3"/>
<rect x="1865.65" y="659.85" width="13.3" height="13.3" fill="#0a40ff" stroke="#0a0a0a" stroke-width="1.3"/>
<polygon points="1630.60,566.96 1641.50,586.00 1619.70,586.00" fill="#0a96ff" stroke="#0a0a0a" stroke-width="1.4"/>
<polygon points="1725.00,547.31 1735.90,566.35 1714.10,566.35" fill="#0a96ff" stroke="#0a0a0a" stroke-width="1.4"/>
<polygon points="1788.10,532.59 1799.00,551.62 1777.20,551.62" fill="#0a96ff" stroke="#0a0a0a" stroke-width="1.4"/>
<polygon points="1514.60,524.30 1524.00,537.10 1514.60,549.90 1505.20,537.10" fill="#0a96ff" stroke="#0a0a0a" stroke-width="1.4"/>
<polygon points="1514.60,549.00 1524.00,561.80 1514.60,574.60 1505.20,561.80" fill="#ffee00" stroke="#0a0a0a" stroke-width="1.4"/>
<polygon points="1514.60,598.30 1524.00,611.10 1514.60,623.90 1505.20,611.10" fill="#52fbab" stroke="#0a0a0a" stroke-width="1.4"/>
<polygon points="1613.60,445.30 1623.00,458.10 1613.60,470.90 1604.20,458.10" fill="#0a96ff" stroke="#0a0a0a" stroke-width="1.4"/>
<polygon points="1613.60,484.30 1623.00,497.10 1613.60,509.90 1604.20,497.10" fill="#52fbab" stroke="#0a0a0a" stroke-width="1.4"/>
<polygon points="1613.60,524.30 1623.00,537.10 1613.60,549.90 1604.20,537.10" fill="#ffee00" stroke="#0a0a0a" stroke-width="1.4"/>
<polygon points="1704.20,306.70 1713.60,319.50 1704.20,332.30 1694.80,319.50" fill="#0a96ff" stroke="#0a0a0a" stroke-width="1.4"/>
<polygon points="1704.20,351.00 1713.60,363.80 1704.20,376.60 1694.80,363.80" fill="#ffee00" stroke="#0a0a0a" stroke-width="1.4"/>
<polygon points="1704.20,389.20 1713.60,402.00 1704.20,414.80 1694.80,402.00" fill="#52fbab" stroke="#0a0a0a" stroke-width="1.4"/>
<polygon points="1766.00,270.20 1775.40,283.00 1766.00,295.80 1756.60,283.00" fill="#ffee00" stroke="#0a0a0a" stroke-width="1.4"/>
<polygon points="1766.00,315.00 1775.40,327.80 1766.00,340.60 1756.60,327.80" fill="#0a96ff" stroke="#0a0a0a" stroke-width="1.4"/>
<polygon points="1766.00,364.90 1775.40,377.70 1766.00,390.50 1756.60,377.70" fill="#52fbab" stroke="#0a0a0a" stroke-width="1.4"/>
<polygon points="1514.60,610.20 1524.00,623.10 1514.60,636.00 1505.20,623.10" fill="#ffee00" stroke="#ff2a2a" stroke-width="1.35"/>
<polygon points="1514.60,638.80 1524.00,651.70 1514.60,664.60 1505.20,651.70" fill="#0a96ff" stroke="#ff2a2a" stroke-width="1.35"/>
<polygon points="1514.60,695.10 1524.00,708.00 1514.60,720.90 1505.20,708.00" fill="#52fbab" stroke="#ff2a2a" stroke-width="1.35"/>
<polygon points="1613.60,631.80 1623.00,644.70 1613.60,657.60 1604.20,644.70" fill="#0a96ff" stroke="#ff2a2a" stroke-width="1.35"/>
<polygon points="1613.60,664.10 1623.00,677.00 1613.60,689.90 1604.20,677.00" fill="#52fbab" stroke="#ff2a2a" stroke-width="1.35"/>
<polygon points="1613.60,699.10 1623.00,712.00 1613.60,724.90 1604.20,712.00" fill="#ffee00" stroke="#ff2a2a" stroke-width="1.35"/>
<polygon points="1704.00,642.30 1713.40,655.20 1704.00,668.10 1694.60,655.20" fill="#0a96ff" stroke="#ff2a2a" stroke-width="1.35"/>
<polygon points="1704.00,666.70 1713.40,679.60 1704.00,692.50 1694.60,679.60" fill="#52fbab" stroke="#ff2a2a" stroke-width="1.35"/>
<polygon points="1704.00,703.40 1713.40,716.30 1704.00,729.20 1694.60,716.30" fill="#ffee00" stroke="#ff2a2a" stroke-width="1.35"/>
<polygon points="1766.00,643.70 1775.40,656.60 1766.00,669.50 1756.60,656.60" fill="#0a96ff" stroke="#ff2a2a" stroke-width="1.35"/>
<polygon points="1766.00,675.90 1775.40,688.80 1766.00,701.70 1756.60,688.80" fill="#52fbab" stroke="#ff2a2a" stroke-width="1.35"/>
<polygon points="1766.00,696.70 1775.40,709.60 1766.00,722.50 1756.60,709.60" fill="#ffee00" stroke="#ff2a2a" stroke-width="1.35"/>
<circle cx="1229.00" cy="616.80" r="9.75" fill="#ff9900" stroke="#0a0a0a" stroke-width="1.3"/>
<circle cx="1441.00" cy="618.40" r="9.75" fill="#ff9900" stroke="#0a0a0a" stroke-width="1.3"/>
<circle cx="1623.50" cy="623.10" r="9.75" fill="#ff9900" stroke="#0a0a0a" stroke-width="1.3"/>
<circle cx="1734.05" cy="629.10" r="9.75" fill="#ff9900" stroke="#0a0a0a" stroke-width="1.3"/>
<circle cx="1909.70" cy="665.10" r="9.75" fill="#000094" stroke="#0a0a0a" stroke-width="1.3"/>
<circle cx="1864.00" cy="711.30" r="9.75" fill="#800000" stroke="#0a0a0a" stroke-width="1.3"/>
<line x1="1233.37" y1="762.9" x2="1233.37" y2="756.3" stroke="#000" stroke-width="2.4"/>
<line x1="1233.37" y1="159.35" x2="1233.37" y2="165.95" stroke="#000" stroke-width="2.4"/>
<line x1="1309.44" y1="762.9" x2="1309.44" y2="756.3" stroke="#000" stroke-width="2.4"/>
<line x1="1309.44" y1="159.35" x2="1309.44" y2="165.95" stroke="#000" stroke-width="2.4"/>
<line x1="1385.51" y1="762.9" x2="1385.51" y2="756.3" stroke="#000" stroke-width="2.4"/>
<line x1="1385.51" y1="159.35" x2="1385.51" y2="165.95" stroke="#000" stroke-width="2.4"/>
<line x1="1461.58" y1="762.9" x2="1461.58" y2="756.3" stroke="#000" stroke-width="2.4"/>
<line x1="1461.58" y1="159.35" x2="1461.58" y2="165.95" stroke="#000" stroke-width="2.4"/>
<line x1="1537.65" y1="762.9" x2="1537.65" y2="756.3" stroke="#000" stroke-width="2.4"/>
<line x1="1537.65" y1="159.35" x2="1537.65" y2="165.95" stroke="#000" stroke-width="2.4"/>
<line x1="1613.72" y1="762.9" x2="1613.72" y2="756.3" stroke="#000" stroke-width="2.4"/>
<line x1="1613.72" y1="159.35" x2="1613.72" y2="165.95" stroke="#000" stroke-width="2.4"/>
<line x1="1689.79" y1="762.9" x2="1689.79" y2="756.3" stroke="#000" stroke-width="2.4"/>
<line x1="1689.79" y1="159.35" x2="1689.79" y2="165.95" stroke="#000" stroke-width="2.4"/>
<line x1="1765.86" y1="762.9" x2="1765.86" y2="756.3" stroke="#000" stroke-width="2.4"/>
<line x1="1765.86" y1="159.35" x2="1765.86" y2="165.95" stroke="#000" stroke-width="2.4"/>
<line x1="1841.93" y1="762.9" x2="1841.93" y2="756.3" stroke="#000" stroke-width="2.4"/>
<line x1="1841.93" y1="159.35" x2="1841.93" y2="165.95" stroke="#000" stroke-width="2.4"/>
<line x1="1918.00" y1="762.9" x2="1918.00" y2="756.3" stroke="#000" stroke-width="2.4"/>
<line x1="1918.00" y1="159.35" x2="1918.00" y2="165.95" stroke="#000" stroke-width="2.4"/>
<line x1="1994.07" y1="762.9" x2="1994.07" y2="756.3" stroke="#000" stroke-width="2.4"/>
<line x1="1994.07" y1="159.35" x2="1994.07" y2="165.95" stroke="#000" stroke-width="2.4"/>
<line x1="1158.2" y1="688.67" x2="1164.8" y2="688.67" stroke="#000" stroke-width="2.4"/>
<line x1="2068.6" y1="688.67" x2="2062.0" y2="688.67" stroke="#000" stroke-width="2.4"/>
<line x1="1158.2" y1="613.05" x2="1164.8" y2="613.05" stroke="#000" stroke-width="2.4"/>
<line x1="2068.6" y1="613.05" x2="2062.0" y2="613.05" stroke="#000" stroke-width="2.4"/>
<line x1="1158.2" y1="537.42" x2="1164.8" y2="537.42" stroke="#000" stroke-width="2.4"/>
<line x1="2068.6" y1="537.42" x2="2062.0" y2="537.42" stroke="#000" stroke-width="2.4"/>
<line x1="1158.2" y1="461.80" x2="1164.8" y2="461.80" stroke="#000" stroke-width="2.4"/>
<line x1="2068.6" y1="461.80" x2="2062.0" y2="461.80" stroke="#000" stroke-width="2.4"/>
<line x1="1158.2" y1="386.17" x2="1164.8" y2="386.17" stroke="#000" stroke-width="2.4"/>
<line x1="2068.6" y1="386.17" x2="2062.0" y2="386.17" stroke="#000" stroke-width="2.4"/>
<line x1="1158.2" y1="310.55" x2="1164.8" y2="310.55" stroke="#000" stroke-width="2.4"/>
<line x1="2068.6" y1="310.55" x2="2062.0" y2="310.55" stroke="#000" stroke-width="2.4"/>
<line x1="1158.2" y1="234.92" x2="1164.8" y2="234.92" stroke="#000" stroke-width="2.4"/>
<line x1="2068.6" y1="234.92" x2="2062.0" y2="234.92" stroke="#000" stroke-width="2.4"/>
<rect x="1158.2" y="159.35" width="910.3999999999999" height="603.55" fill="none" stroke="#000" stroke-width="2.7"/>
<text x="1157.30" y="802.00" font-size="29.3" text-anchor="middle" textLength="47.4" lengthAdjust="spacingAndGlyphs" >175</text>
<text x="1233.37" y="802.00" font-size="29.3" text-anchor="middle" textLength="47.4" lengthAdjust="spacingAndGlyphs" >185</text>
<text x="1309.44" y="802.00" font-size="29.3" text-anchor="middle" textLength="47.4" lengthAdjust="spacingAndGlyphs" >195</text>
<text x="1385.51" y="802.00" font-size="29.3" text-anchor="middle" textLength="47.4" lengthAdjust="spacingAndGlyphs" >205</text>
<text x="1461.58" y="802.00" font-size="29.3" text-anchor="middle" textLength="47.4" lengthAdjust="spacingAndGlyphs" >215</text>
<text x="1537.65" y="802.00" font-size="29.3" text-anchor="middle" textLength="47.4" lengthAdjust="spacingAndGlyphs" >225</text>
<text x="1613.72" y="802.00" font-size="29.3" text-anchor="middle" textLength="47.4" lengthAdjust="spacingAndGlyphs" >235</text>
<text x="1689.79" y="802.00" font-size="29.3" text-anchor="middle" textLength="47.4" lengthAdjust="spacingAndGlyphs" >245</text>
<text x="1765.86" y="802.00" font-size="29.3" text-anchor="middle" textLength="47.4" lengthAdjust="spacingAndGlyphs" >255</text>
<text x="1841.93" y="802.00" font-size="29.3" text-anchor="middle" textLength="47.4" lengthAdjust="spacingAndGlyphs" >265</text>
<text x="1918.00" y="802.00" font-size="29.3" text-anchor="middle" textLength="47.4" lengthAdjust="spacingAndGlyphs" >275</text>
<text x="1994.07" y="802.00" font-size="29.3" text-anchor="middle" textLength="47.4" lengthAdjust="spacingAndGlyphs" >285</text>
<text x="2070.14" y="802.00" font-size="29.3" text-anchor="middle" textLength="47.4" lengthAdjust="spacingAndGlyphs" >295</text>
<text x="1146.50" y="774.60" font-size="29.3" text-anchor="end" textLength="39.5" lengthAdjust="spacingAndGlyphs" >4.0</text>
<text x="1146.50" y="698.97" font-size="29.3" text-anchor="end" textLength="39.5" lengthAdjust="spacingAndGlyphs" >6.0</text>
<text x="1146.50" y="623.35" font-size="29.3" text-anchor="end" textLength="39.5" lengthAdjust="spacingAndGlyphs" >8.0</text>
<text x="1146.50" y="547.72" font-size="29.3" text-anchor="end" textLength="55.3" lengthAdjust="spacingAndGlyphs" >10.0</text>
<text x="1146.50" y="472.10" font-size="29.3" text-anchor="end" textLength="55.3" lengthAdjust="spacingAndGlyphs" >12.0</text>
<text x="1146.50" y="396.47" font-size="29.3" text-anchor="end" textLength="55.3" lengthAdjust="spacingAndGlyphs" >14.0</text>
<text x="1146.50" y="320.85" font-size="29.3" text-anchor="end" textLength="55.3" lengthAdjust="spacingAndGlyphs" >16.0</text>
<text x="1146.50" y="245.22" font-size="29.3" text-anchor="end" textLength="55.3" lengthAdjust="spacingAndGlyphs" >18.0</text>
<text x="1146.50" y="169.60" font-size="29.3" text-anchor="end" textLength="55.3" lengthAdjust="spacingAndGlyphs" >20.0</text>
<text x="1613.70" y="837.40" font-size="27.7" text-anchor="middle" font-weight="bold" textLength="441.8" lengthAdjust="spacingAndGlyphs" >Sow plus Litter Body Weight (kg)</text>
<rect x="1184.8" y="179.9" width="401.29999999999995" height="159.79999999999998" fill="#fff" stroke="#404040" stroke-width="1.5"/>
<text x="1283.30" y="207.10" font-size="24.9" text-anchor="start" textLength="297.2" lengthAdjust="spacingAndGlyphs" >Brown-Brandl et al. (2014)</text>
<text x="1283.30" y="238.00" font-size="24.9" text-anchor="start" textLength="244.2" lengthAdjust="spacingAndGlyphs" >Cabezon et al. (2017)</text>
<text x="1283.30" y="268.60" font-size="24.9" text-anchor="start" textLength="251.2" lengthAdjust="spacingAndGlyphs" >Jakobsen et al. (2005)</text>
<text x="1283.30" y="299.80" font-size="24.9" text-anchor="start" textLength="251.2" lengthAdjust="spacingAndGlyphs" >Pederson et al. (2018)</text>
<text x="1283.30" y="330.80" font-size="24.9" text-anchor="start" textLength="200.4" lengthAdjust="spacingAndGlyphs" >Stinn et al. (2014)</text>
<polygon points="1234.70,190.00 1237.10,194.15 1241.89,194.15 1239.49,198.30 1241.89,202.45 1237.10,202.45 1234.70,206.60 1232.30,202.45 1227.51,202.45 1229.91,198.30 1227.51,194.15 1232.30,194.15" fill="#000094" stroke="#0a0a0a" stroke-width="1.1"/>
<circle cx="1234.70" cy="229.40" r="8.4" fill="#ff9900" stroke="#0a0a0a" stroke-width="1.2"/>
<polygon points="1234.70,249.23 1244.40,265.95 1225.00,265.95" fill="#0a96ff" stroke="#0a0a0a" stroke-width="1.2"/>
<rect x="1228.10" y="284.00" width="13.2" height="13.2" fill="#0a40ff" stroke="#0a0a0a" stroke-width="1.2"/>
<polygon points="1234.70,310.90 1242.60,321.50 1234.70,332.10 1226.80,321.50" fill="#0a96ff" stroke="#0a0a0a" stroke-width="1.2"/>
<text x="26.10" y="608.30" font-size="27.2" text-anchor="start" font-weight="bold" textLength="307.3" lengthAdjust="spacingAndGlyphs" transform="rotate(-90 26.10 608.30)" >Heat Production (W/kg)</text>
<text x="1075.00" y="691.90" font-size="27.7" text-anchor="start" font-weight="bold" textLength="405.8" lengthAdjust="spacingAndGlyphs" transform="rotate(-90 1075.00 691.90)" >Heat Production (kcal/h/kg BW</text>
<text x="1061.20" y="285.80" font-size="21.8" text-anchor="start" font-weight="bold" textLength="43.2" lengthAdjust="spacingAndGlyphs" transform="rotate(-90 1061.20 285.80)" >0.75</text>
<text x="1075.00" y="242.50" font-size="27.3" text-anchor="start" font-weight="bold" transform="rotate(-90 1075.00 242.50)" >)</text>
</svg>
</body></html>
